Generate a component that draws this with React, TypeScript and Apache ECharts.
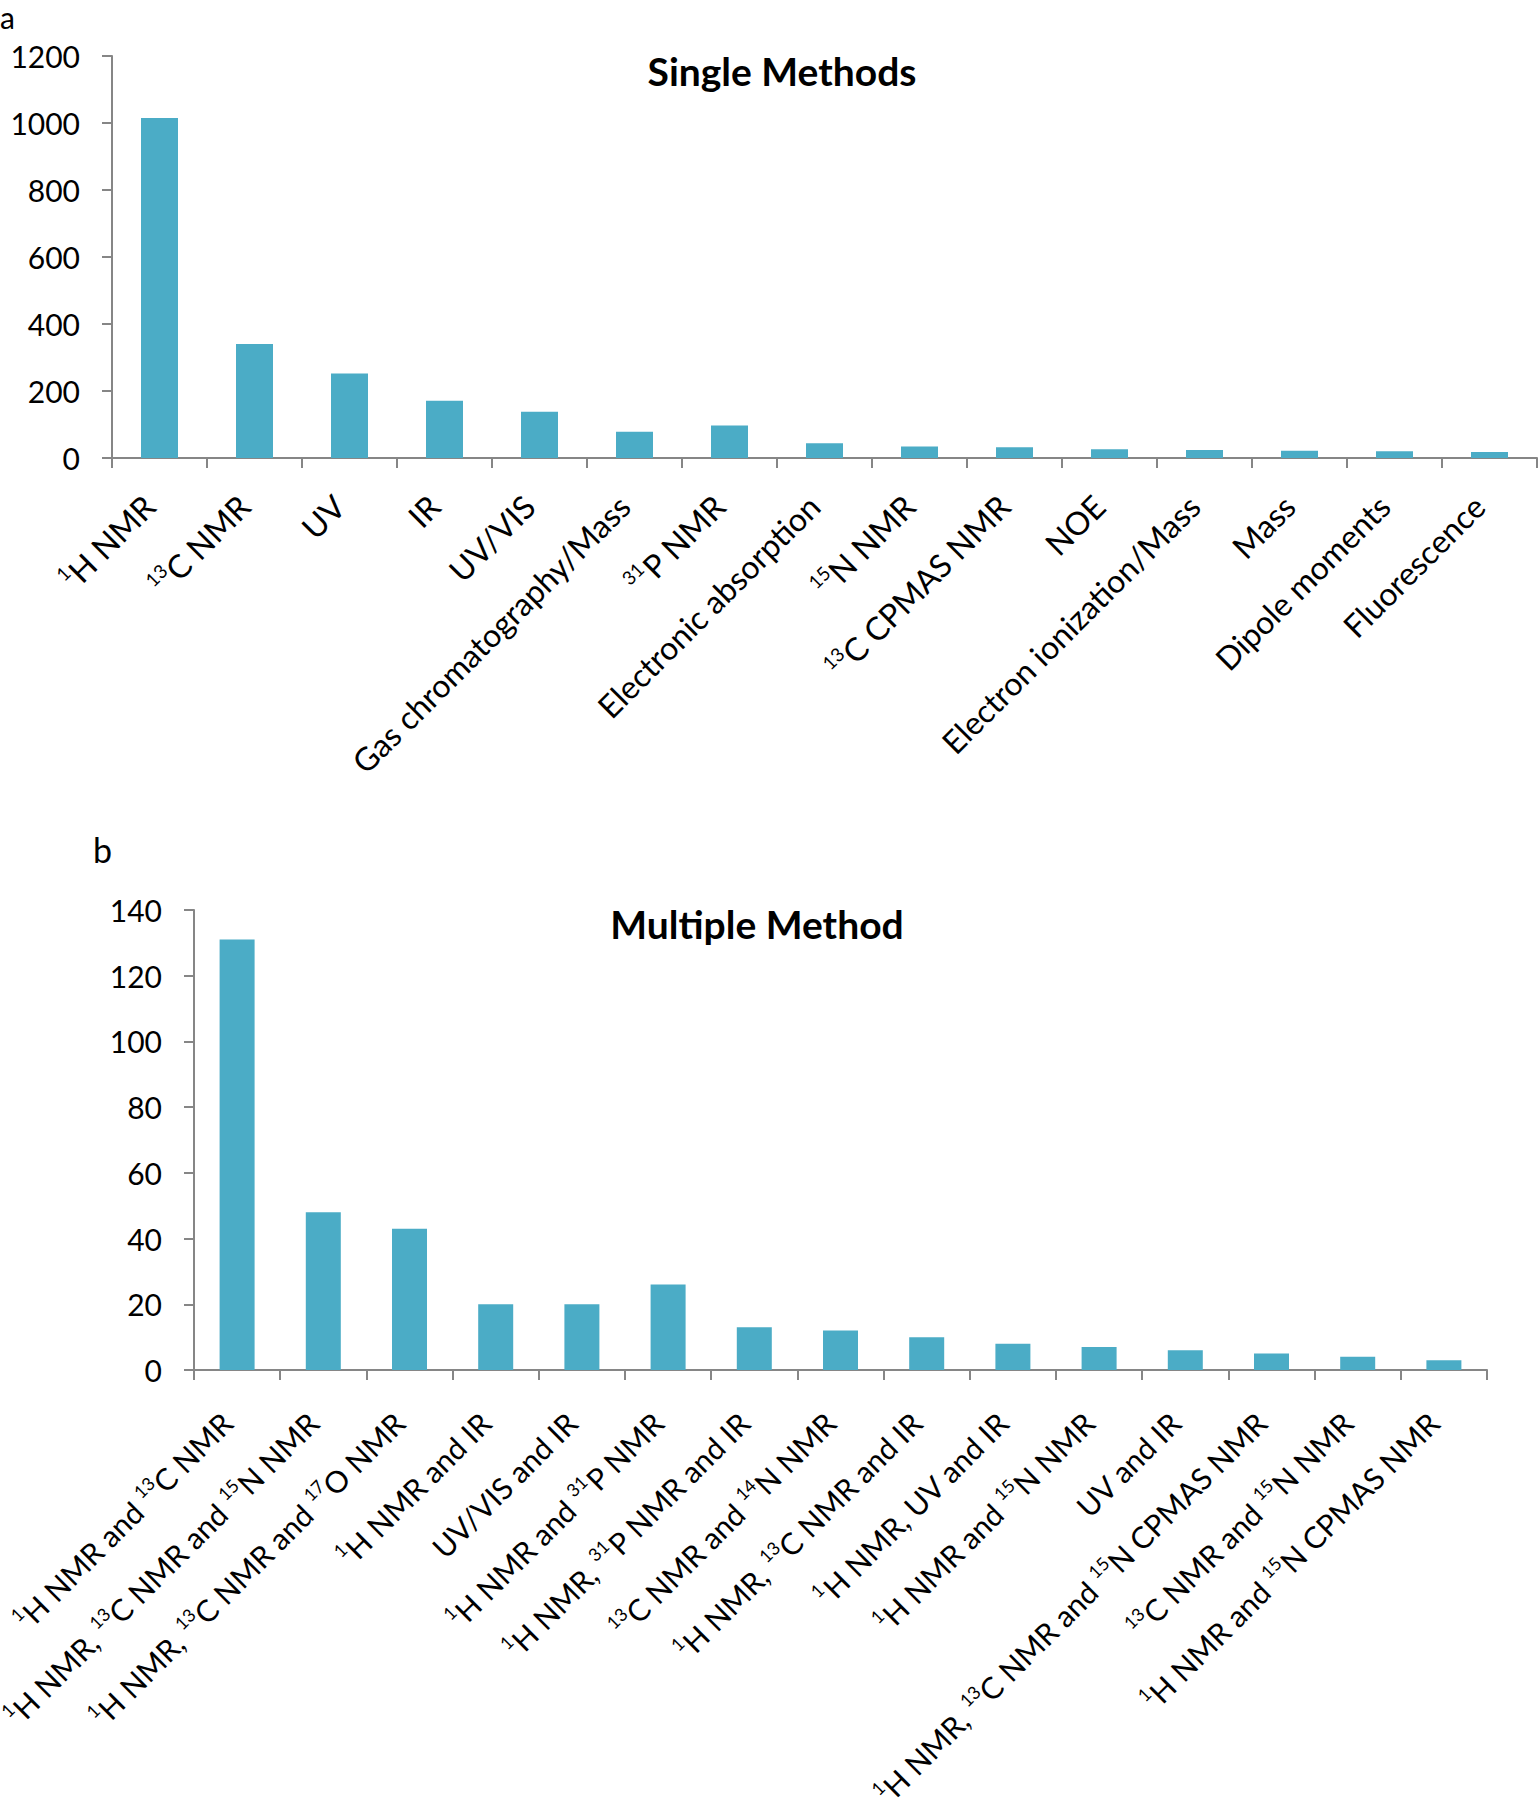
import React, { useEffect, useRef } from "react";
import * as echarts from "echarts";

// ---- Data ----
const singleCategories = [
  "¹H NMR",
  "¹³C NMR",
  "UV",
  "IR",
  "UV/VIS",
  "Gas chromatography/Mass",
  "³¹P NMR",
  "Electronic absorption",
  "¹⁵N NMR",
  "¹³C CPMAS NMR",
  "NOE",
  "Electron ionization/Mass",
  "Mass",
  "Dipole moments",
  "Fluorescence",
];
const singleValues = [1015, 340, 252, 171, 138, 78, 97, 44, 34, 32, 26, 24, 22, 20, 18];
const singleAxis = [0, 1200, 200]; // min, max, interval

const multipleCategories = [
  "¹H NMR and ¹³C NMR",
  "¹H NMR, ¹³C NMR and ¹⁵N NMR",
  "¹H NMR, ¹³C NMR and ¹⁷O NMR",
  "¹H NMR and IR",
  "UV/VIS and IR",
  "¹H NMR and ³¹P NMR",
  "¹H NMR, ³¹P NMR and IR",
  "¹³C NMR and ¹⁴N NMR",
  "¹H NMR, ¹³C NMR and IR",
  "¹H NMR, UV and IR",
  "¹H NMR and ¹⁵N NMR",
  "UV and IR",
  "¹H NMR, ¹³C NMR and ¹⁵N CPMAS NMR",
  "¹³C NMR and ¹⁵N NMR",
  "¹H NMR and ¹⁵N CPMAS NMR",
];
const multipleValues = [131, 48, 43, 20, 20, 26, 13, 12, 10, 8, 7, 6, 5, 4, 3];
const multipleAxis = [0, 140, 20];

const panelLetters = ["a", "b"];
const titles = ["Single Methods", "Multiple Method"];

// ---- Styling ----
const FONT = "Lato, 'Open Sans', sans-serif";
const BAR_COLOR = "#4BACC6";
const AXIS_COLOR = "#868686";

const SUP_MAP: Record<string, string> = {
  "⁰": "0", "¹": "1", "²": "2", "³": "3", "⁴": "4",
  "⁵": "5", "⁶": "6", "⁷": "7", "⁸": "8", "⁹": "9",
};

function toRich(label: string): string {
  const parts = label.split(/([⁰¹²³⁴⁵⁶⁷⁸⁹]+)/);
  return parts
    .filter((p) => p.length > 0)
    .map((p) => {
      if (/^[⁰¹²³⁴⁵⁶⁷⁸⁹]+$/.test(p)) {
        return "{sup|" + p.split("").map((c) => SUP_MAP[c]).join("") + "}";
      }
      return "{n|" + p + "}";
    })
    .join("");
}

function xAxisFor(gridIndex: number, data: string[], margin: number, fontSize: number, supSize: number) {
  const lh = Math.round(fontSize * 1.19);
  return {
    type: "category",
    gridIndex,
    data,
    axisLine: { show: true, lineStyle: { color: AXIS_COLOR, width: 2 } },
    axisTick: { show: true, length: 10, lineStyle: { color: AXIS_COLOR, width: 2 } },
    axisLabel: {
      interval: 0,
      rotate: 45,
      margin,
      padding: [0, 15, 0, 0],
      color: "#000",
      fontFamily: FONT,
      fontSize,
      lineHeight: lh,
      formatter: (v: string) => toRich(v),
      rich: {
        n: {
          fontFamily: FONT,
          fontSize,
          lineHeight: lh,
          color: "#000",
        },
        sup: {
          fontFamily: FONT,
          fontSize: supSize,
          lineHeight: supSize + 3,
          verticalAlign: "top",
          color: "#000",
        },
      },
    },
    splitLine: { show: false },
  };
}

function yAxisFor(gridIndex: number, axis: number[]) {
  return {
    type: "value",
    gridIndex,
    min: axis[0],
    max: axis[1],
    interval: axis[2],
    axisLine: { show: true, lineStyle: { color: AXIS_COLOR, width: 2 } },
    axisTick: { show: true, length: 10, lineStyle: { color: AXIS_COLOR, width: 2 } },
    axisLabel: {
      margin: 32,
      color: "#000",
      fontFamily: FONT,
      fontSize: 30,
      formatter: (v: number) => String(v),
    },
    splitLine: { show: false },
  };
}

export default function App() {
  const ref = useRef<HTMLDivElement>(null);

  useEffect(() => {
    if (!ref.current) return;
    const chart = echarts.init(ref.current, undefined, { renderer: "svg" });
    chart.setOption({
      animation: false,
      backgroundColor: "#ffffff",
      grid: [
        { left: 112, top: 56, width: 1425, height: 402, containLabel: false, outerBoundsMode: "none" },
        { left: 194, top: 910, width: 1293, height: 460, containLabel: false, outerBoundsMode: "none" },
      ],
      xAxis: [
        xAxisFor(0, singleCategories, 32, 32, 19),
        xAxisFor(1, multipleCategories, 37, 30, 18),
      ],
      yAxis: [yAxisFor(0, singleAxis), yAxisFor(1, multipleAxis)],
      series: [
        {
          type: "bar",
          xAxisIndex: 0,
          yAxisIndex: 0,
          data: singleValues,
          barWidth: 37,
          itemStyle: { color: BAR_COLOR },
        },
        {
          type: "bar",
          xAxisIndex: 1,
          yAxisIndex: 1,
          data: multipleValues,
          barWidth: 35,
          itemStyle: { color: BAR_COLOR },
        },
      ],
      graphic: [
        {
          type: "text",
          x: 0,
          y: 2,
          style: { text: panelLetters[0], font: "30px " + FONT, fill: "#000", align: "left", verticalAlign: "top" },
        },
        {
          type: "text",
          x: 93,
          y: 849,
          style: { text: panelLetters[1], font: "34px " + FONT, fill: "#000", align: "left", verticalAlign: "middle" },
        },
        {
          type: "text",
          x: 782,
          y: 71,
          style: { text: titles[0], font: "bold 39px " + FONT, fill: "#000", align: "center", verticalAlign: "middle" },
        },
        {
          type: "text",
          x: 757,
          y: 924,
          style: { text: titles[1], font: "bold 39px " + FONT, fill: "#000", align: "center", verticalAlign: "middle" },
        },
      ],
    });
    return () => chart.dispose();
  }, []);

  return (
    <div
      ref={ref}
      style={{ position: "absolute", left: 0, top: 0, width: 1539, height: 1800, background: "#fff" }}
    />
  );
}
